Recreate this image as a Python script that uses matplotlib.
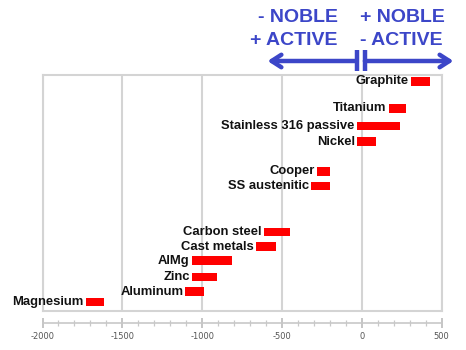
import matplotlib
matplotlib.use("Agg")
import matplotlib.pyplot as plt
from matplotlib.ticker import MultipleLocator
from matplotlib.transforms import blended_transform_factory

plt.rcParams["axes.unicode_minus"] = False

# Galvanic series: potential range (mV) of each material
materials = ["Graphite", "Titanium", "Stainless 316 passive", "Nickel",
             "Cooper", "SS austenitic", "Carbon steel", "Cast metals",
             "AlMg", "Zinc", "Aluminum", "Magnesium"]
range_low = [310, 170, -30, -30, -280, -315, -615, -665, -1065, -1065, -1105, -1730]
range_high = [430, 280, 240, 90, -200, -200, -450, -540, -810, -905, -990, -1615]
# vertical slot of each row (0 = top of the panel, 100 = bottom)
row_pos = [2.9, 14.3, 21.9, 28.4, 41.0, 47.1, 66.6, 72.8, 78.7, 85.6, 91.8, 96.2]

x_ticks = [-2000, -1500, -1000, -500, 0, 500]

W, H = 466, 350
fig = plt.figure(figsize=(W / 100, H / 100), dpi=100)

grid_col = "#d4d4d4"
blue = "#3c46c8"

ax = fig.add_axes([42.5 / W, 1 - 311 / H, 399 / W, 236.5 / H])
ax.set_xlim(x_ticks[0], x_ticks[-1])
ax.set_ylim(100, 0)
for s in ax.spines.values():
    s.set_color(grid_col)
    s.set_linewidth(1.5)
ax.set_xticks(x_ticks)
ax.set_yticks([])
ax.tick_params(axis="x", length=0, labelbottom=False)
ax.grid(axis="x", color=grid_col, linewidth=1.5)
ax.set_axisbelow(True)

widths = [h - l for l, h in zip(range_low, range_high)]
ax.barh(row_pos, widths, left=range_low, height=3.55, color="#ff0000", zorder=3)

for name, lo, y in zip(materials, range_low, row_pos):
    ax.annotate(name, xy=(lo, y), xytext=(-1.5, 0), textcoords="offset points",
                ha="right", va="center", fontsize=9.4, fontweight="bold",
                family="Liberation Sans", color="#111111", zorder=4)

# Detached scale below the panel
sx = fig.add_axes([42.5 / W, 1 - 323 / H, 399 / W, 0.0001])
sx.set_xlim(x_ticks[0], x_ticks[-1])
sx.set_yticks([])
for k in ("top", "left", "right"):
    sx.spines[k].set_visible(False)
sx.spines["bottom"].set_color("#c8c8c8")
sx.spines["bottom"].set_linewidth(1.2)
sx.set_xticks(x_ticks)
sx.xaxis.set_minor_locator(MultipleLocator(100))
sx.tick_params(axis="x", which="major", direction="inout", length=6.5, width=1.3,
               color="#c0c0c0", labelsize=6, labelcolor="#555555", pad=3.5)
sx.tick_params(axis="x", which="minor", direction="inout", length=4, width=0.9,
               color="#c8c8c8")
sx.patch.set_visible(False)

# Noble / active indicator above the panel
tr = blended_transform_factory(ax.transData, fig.transFigure)
arrow_y = 1 - 61 / H
arrow_kw = dict(arrowstyle="->,head_length=0.7,head_width=0.45", color=blue,
                lw=3.2, shrinkA=0, shrinkB=0)
ax.annotate("", xy=(-590, arrow_y), xytext=(-30, arrow_y),
            xycoords=tr, textcoords=tr, arrowprops=arrow_kw, annotation_clip=False)
ax.annotate("", xy=(575, arrow_y), xytext=(20, arrow_y),
            xycoords=tr, textcoords=tr, arrowprops=arrow_kw, annotation_clip=False)
for bx in (-28, 18):
    ax.plot([bx, bx], [1 - 50 / H, 1 - 71 / H], color=blue, lw=3.2,
            transform=tr, clip_on=False, solid_capstyle="butt")

txt_kw = dict(fontsize=14, fontweight="bold", family="Liberation Sans", color=blue,
              transform=tr, va="baseline")
ax.text(-150, 1 - 21.7 / H, "- NOBLE", ha="right", **txt_kw)
ax.text(-150, 1 - 45 / H, "+ ACTIVE", ha="right", **txt_kw)
ax.text(-8, 1 - 21.7 / H, "+ NOBLE", ha="left", **txt_kw)
ax.text(-8, 1 - 45 / H, "- ACTIVE", ha="left", **txt_kw)

fig.savefig("out.png", dpi=100, facecolor="white")
